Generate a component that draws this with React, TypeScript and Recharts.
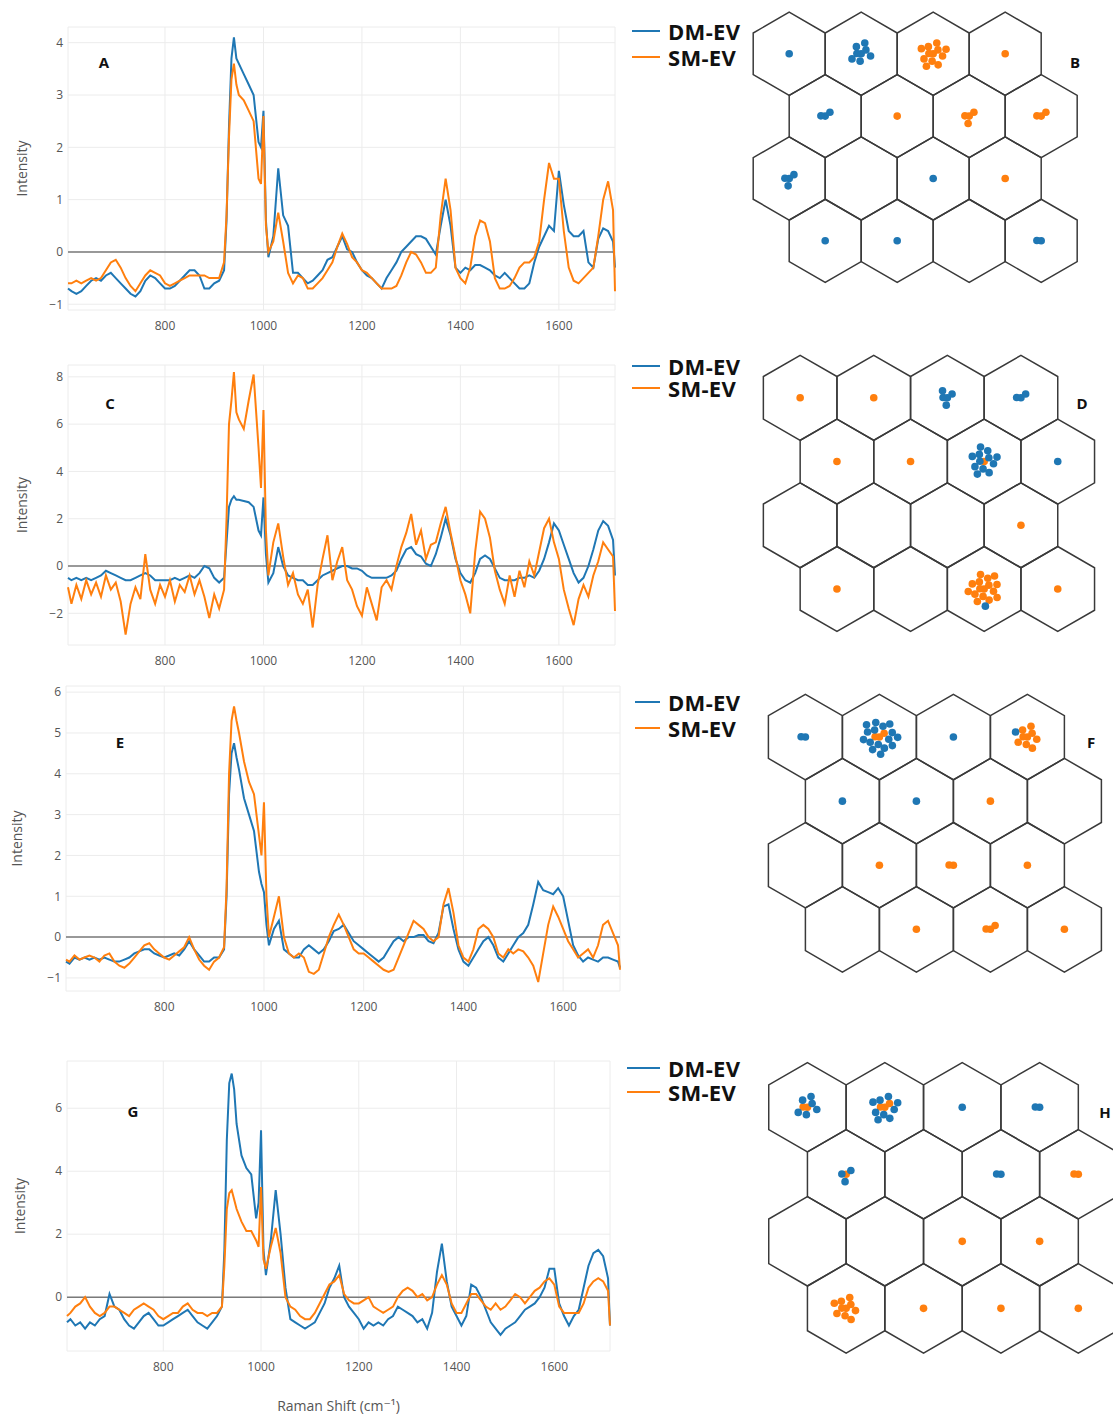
import React from "react";
import { LineChart, Line, XAxis, YAxis, CartesianGrid, ReferenceLine, ScatterChart, Scatter } from "recharts";

const BLUE = "#1f77b4";
const ORANGE = "#ff7f0e";
const seriesNames = ["DM-EV", "SM-EV"];

// Raman shift (cm-1) sample positions shared by all spectra
const ramanShift = [
  603, 610, 620, 630, 640, 650, 660, 670, 680, 690,
  700, 710, 720, 730, 740, 750, 760, 770, 780, 790,
  800, 810, 820, 830, 840, 850, 860, 870, 880, 890,
  900, 910, 920, 925, 930, 935, 940, 945, 950, 960,
  970, 980, 990, 995, 1000, 1005, 1010, 1020, 1030, 1040,
  1050, 1060, 1070, 1080, 1090, 1100, 1110, 1120, 1130, 1140,
  1150, 1160, 1170, 1180, 1190, 1200, 1210, 1220, 1230, 1240,
  1250, 1260, 1270, 1280, 1290, 1300, 1310, 1320, 1330, 1340,
  1350, 1360, 1370, 1380, 1390, 1400, 1410, 1420, 1430, 1440,
  1450, 1460, 1470, 1480, 1490, 1500, 1510, 1520, 1530, 1540,
  1550, 1560, 1570, 1580, 1590, 1600, 1610, 1620, 1630, 1640,
  1650, 1660, 1670, 1680, 1690, 1700, 1710, 1714,
];
const xTicks = [800, 1000, 1200, 1400, 1600];

// panel A
const dmA = [
  -0.7, -0.75, -0.8, -0.75, -0.65, -0.55, -0.5, -0.55, -0.45, -0.4,
  -0.5, -0.6, -0.7, -0.8, -0.85, -0.75, -0.55, -0.45, -0.5, -0.6,
  -0.7, -0.7, -0.65, -0.55, -0.45, -0.35, -0.35, -0.45, -0.7, -0.7,
  -0.6, -0.55, -0.35, 0.6, 2.4, 3.7, 4.1, 3.7, 3.6, 3.4,
  3.2, 3.0, 2.1, 2.0, 2.7, 0.6, -0.1, 0.3, 1.6, 0.7,
  0.5, -0.4, -0.4, -0.5, -0.6, -0.55, -0.45, -0.35, -0.15, -0.1,
  0.1, 0.3, 0.05, 0.0, -0.2, -0.35, -0.45, -0.5, -0.6, -0.7,
  -0.5, -0.35, -0.2, 0.0, 0.1, 0.2, 0.3, 0.3, 0.25, 0.1,
  -0.05, 0.5, 1.0, 0.5, -0.3, -0.4, -0.3, -0.35, -0.25, -0.25,
  -0.3, -0.35, -0.45, -0.5, -0.4, -0.5, -0.6, -0.7, -0.7, -0.6,
  -0.2, 0.1, 0.3, 0.5, 0.4, 1.55, 0.9, 0.4, 0.3, 0.3,
  0.4, -0.2, -0.3, 0.25, 0.45, 0.4, 0.2, -0.3,
];
const smA = [
  -0.6, -0.6, -0.55, -0.6, -0.55, -0.5, -0.55, -0.5, -0.35, -0.2,
  -0.15, -0.3, -0.5, -0.65, -0.75, -0.6, -0.45, -0.35, -0.4, -0.45,
  -0.6, -0.65, -0.6, -0.55, -0.5, -0.45, -0.45, -0.45, -0.45, -0.5,
  -0.5, -0.5, -0.2, 0.7, 2.2, 3.3, 3.6, 3.2, 3.0, 2.9,
  2.7, 2.5, 1.4, 1.3, 2.6, 0.5, 0.0, 0.2, 0.75, 0.2,
  -0.4, -0.6, -0.45, -0.5, -0.7, -0.7, -0.6, -0.5, -0.35, -0.2,
  0.1, 0.35, 0.15, -0.1, -0.2, -0.35, -0.4, -0.5, -0.6, -0.7,
  -0.7, -0.7, -0.65, -0.45, -0.2, 0.0, -0.05, -0.2, -0.4, -0.4,
  -0.3, 0.7, 1.4, 0.8, -0.3, -0.5, -0.6, -0.3, 0.3, 0.6,
  0.55, 0.2, -0.5, -0.7, -0.7, -0.65, -0.5, -0.3, -0.2, -0.2,
  -0.1, 0.2, 1.0, 1.7, 1.4, 1.4, 0.4, -0.3, -0.55, -0.6,
  -0.5, -0.4, -0.3, 0.3, 1.0, 1.35, 0.8, -0.75,
];

// panel C
const dmC = [
  -0.5, -0.6, -0.5, -0.6, -0.5, -0.6, -0.5, -0.4, -0.2, -0.3,
  -0.4, -0.5, -0.6, -0.6, -0.5, -0.4, -0.3, -0.4, -0.6, -0.6,
  -0.6, -0.6, -0.5, -0.6, -0.5, -0.4, -0.5, -0.3, 0.0, -0.1,
  -0.5, -0.7, -0.5, 1.0, 2.5, 2.8, 2.95, 2.8, 2.8, 2.75,
  2.7, 2.5, 1.5, 1.3, 2.9, 0.5, -0.7, -0.3, 0.8, 0.0,
  -0.4, -0.5, -0.6, -0.6, -0.8, -0.8, -0.6, -0.4, -0.3, -0.2,
  -0.1, 0.0, 0.0, -0.1, -0.1, -0.2, -0.4, -0.5, -0.5, -0.5,
  -0.5, -0.4, -0.2, 0.3, 0.7, 0.8, 0.5, 0.4, 0.1, 0.0,
  0.5, 1.2, 2.0, 1.3, 0.3, -0.3, -0.6, -0.7, -0.3, 0.3,
  0.45, 0.3, -0.1, -0.5, -0.6, -0.6, -0.6, -0.5, -0.5, -0.4,
  -0.5, -0.2, 0.3, 1.0, 1.8, 1.5, 0.9, 0.3, -0.3, -0.7,
  -0.5, 0.0, 0.7, 1.5, 1.9, 1.7, 1.1, -0.4,
];
const smC = [
  -0.9, -1.6, -0.8, -1.4, -0.6, -1.2, -0.7, -1.3, -0.4, -1.0,
  -0.7, -1.5, -2.9, -1.6, -0.9, -1.4, 0.5, -1.0, -1.6, -0.8,
  -1.3, -0.6, -1.5, -0.8, -1.1, -0.4, -1.2, -0.6, -1.3, -2.2,
  -1.2, -1.8, -1.0, 2.0, 6.0, 7.0, 8.2, 6.5, 6.2, 5.8,
  7.0, 8.1, 5.0, 3.3, 6.6, 1.5, -0.4, 1.0, 1.8, 0.4,
  -0.8, -0.3, -1.2, -1.6, -1.0, -2.6, -0.8, 0.3, 1.3, -0.6,
  0.2, 0.8, -0.6, -1.0, -1.7, -2.1, -0.9, -1.6, -2.3, -0.9,
  -0.6, -1.0, 0.0, 0.8, 1.4, 2.2, 0.9, 1.5, 0.3, 0.9,
  1.0, 1.8, 2.5, 1.4, 0.4, -0.6, -1.2, -2.0, 0.6, 2.3,
  2.0, 1.2, -0.2, -1.0, -1.6, -0.4, -1.3, -0.2, -0.9, 0.2,
  -0.4, 0.6, 1.6, 2.0, 1.0, 0.3, -1.0, -1.8, -2.5, -1.4,
  -0.8, -1.3, -0.4, 0.2, 1.0, 0.7, 0.4, -1.9,
];

// panel E
const dmE = [
  -0.6, -0.65, -0.5, -0.55, -0.5, -0.55, -0.5, -0.55, -0.5, -0.55,
  -0.6, -0.6, -0.55, -0.5, -0.4, -0.35, -0.3, -0.3, -0.4, -0.45,
  -0.5, -0.45, -0.4, -0.45, -0.3, -0.1, -0.3, -0.45, -0.6, -0.6,
  -0.5, -0.5, -0.3, 1.0, 3.5, 4.5, 4.75, 4.4, 4.1, 3.4,
  3.0, 2.6, 1.6, 1.3, 1.1, 0.3, -0.2, 0.2, 0.4, -0.3,
  -0.4, -0.5, -0.5, -0.3, -0.2, -0.3, -0.4, -0.3, -0.1, 0.15,
  0.2, 0.3, 0.1, -0.1, -0.2, -0.3, -0.4, -0.5, -0.6, -0.5,
  -0.3, -0.1, 0.0, -0.1, 0.0, 0.0, 0.05, 0.05, -0.1, -0.15,
  0.1, 0.75, 0.8, 0.2, -0.3, -0.6, -0.7, -0.5, -0.3, -0.1,
  0.0, -0.2, -0.5, -0.6, -0.4, -0.2, 0.0, 0.1, 0.3, 0.8,
  1.35, 1.15, 1.1, 1.05, 1.2, 1.0, 0.4, -0.2, -0.45, -0.6,
  -0.5, -0.55, -0.6, -0.5, -0.5, -0.55, -0.6, -0.75,
];
const smE = [
  -0.55, -0.6, -0.45, -0.55, -0.5, -0.45, -0.5, -0.6, -0.45, -0.4,
  -0.6, -0.7, -0.75, -0.65, -0.5, -0.35, -0.2, -0.15, -0.3, -0.4,
  -0.5, -0.55, -0.45, -0.35, -0.25, 0.0, -0.3, -0.55, -0.7, -0.8,
  -0.6, -0.5, -0.25, 1.2, 4.0, 5.3, 5.65, 5.3, 5.0, 4.3,
  3.8, 3.5, 2.5, 2.0, 3.3, 1.0, 0.0, 0.5, 1.0, 0.0,
  -0.4, -0.5, -0.4, -0.5, -0.85, -0.9, -0.8, -0.4, 0.0, 0.3,
  0.55, 0.3, 0.0, -0.3, -0.4, -0.4, -0.5, -0.6, -0.7, -0.8,
  -0.85, -0.8, -0.5, -0.2, 0.1, 0.4, 0.3, 0.2, 0.0, -0.1,
  0.0, 0.8, 1.2, 0.6, -0.2, -0.5, -0.6, -0.3, 0.2, 0.3,
  0.2, 0.0, -0.4, -0.5, -0.3, -0.4, -0.3, -0.35, -0.5, -0.7,
  -1.1, -0.4, 0.3, 0.75, 0.5, 0.2, -0.1, -0.3, -0.5, -0.4,
  -0.3, -0.5, -0.2, 0.3, 0.4, 0.1, -0.2, -0.8,
];

// panel G
const dmG = [
  -0.8, -0.7, -0.9, -0.8, -1.0, -0.8, -0.9, -0.7, -0.6, 0.1,
  -0.3, -0.4, -0.7, -0.9, -1.0, -0.8, -0.6, -0.5, -0.7, -0.9,
  -0.9, -0.8, -0.7, -0.6, -0.5, -0.4, -0.6, -0.8, -0.9, -1.0,
  -0.8, -0.6, -0.3, 1.5, 5.0, 6.8, 7.1, 6.6, 5.5, 4.5,
  4.1, 3.9, 2.5, 3.0, 5.3, 1.5, 0.7, 1.8, 3.4, 2.0,
  0.3, -0.7, -0.8, -0.9, -1.0, -0.9, -0.8, -0.5, -0.2, 0.3,
  0.6, 1.0, 0.0, -0.3, -0.5, -0.7, -1.0, -0.8, -0.9, -0.8,
  -0.9, -0.7, -0.6, -0.3, -0.4, -0.5, -0.6, -0.8, -0.7, -1.0,
  -0.5, 0.8, 1.7, 0.5, -0.3, -0.6, -0.9, -0.6, 0.4, 0.3,
  0.0, -0.4, -0.8, -1.0, -1.2, -1.0, -0.9, -0.8, -0.6, -0.4,
  -0.3, -0.2, 0.0, 0.3, 0.9, 0.9, -0.2, -0.6, -0.9, -0.6,
  -0.4, 0.3, 1.0, 1.4, 1.5, 1.3, 0.6, -0.9,
];
const smG = [
  -0.6, -0.5, -0.3, -0.2, 0.0, -0.3, -0.5, -0.6, -0.5, -0.3,
  -0.3, -0.4, -0.5, -0.6, -0.4, -0.3, -0.2, -0.3, -0.4, -0.6,
  -0.7, -0.6, -0.5, -0.5, -0.3, -0.2, -0.4, -0.5, -0.5, -0.6,
  -0.5, -0.5, -0.3, 1.0, 2.8, 3.3, 3.4, 3.1, 2.8, 2.4,
  2.1, 2.1, 1.8, 1.6, 3.5, 1.2, 0.9, 1.6, 2.2, 1.4,
  0.0, -0.3, -0.4, -0.6, -0.7, -0.7, -0.5, -0.2, 0.1, 0.4,
  0.5, 0.7, 0.1, -0.1, -0.2, -0.2, -0.1, 0.0, -0.3, -0.4,
  -0.5, -0.4, -0.3, 0.0, 0.2, 0.3, 0.2, 0.0, 0.1, -0.1,
  0.0, 0.4, 0.7, 0.4, -0.2, -0.5, -0.5, -0.2, 0.1, 0.1,
  -0.1, -0.3, -0.4, -0.2, -0.4, -0.3, -0.1, 0.1, 0.0, -0.2,
  0.0, 0.2, 0.3, 0.5, 0.6, 0.4, -0.3, -0.5, -0.5, -0.5,
  -0.5, -0.2, 0.3, 0.5, 0.6, 0.5, 0.2, -0.9,
];

// SOM node hits: [col, row, DM-EV count, SM-EV count]
const somB = [
  [0, 0, 1, 0], [1, 0, 8, 0], [2, 0, 0, 12], [3, 0, 0, 1],
  [0, 1, 3, 0], [1, 1, 0, 1], [2, 1, 0, 4], [3, 1, 0, 3],
  [0, 2, 4, 0], [2, 2, 1, 0], [3, 2, 0, 1],
  [0, 3, 1, 0], [1, 3, 1, 0], [3, 3, 2, 0],
];
const somD = [
  [0, 0, 0, 1], [1, 0, 0, 1], [2, 0, 5, 0], [3, 0, 3, 0],
  [0, 1, 0, 1], [1, 1, 0, 1], [2, 1, 12, 1], [3, 1, 1, 0],
  [3, 2, 0, 1],
  [0, 3, 0, 1], [2, 3, 1, 16], [3, 3, 0, 1],
];
const somF = [
  [0, 0, 2, 0], [1, 0, 16, 3], [2, 0, 1, 0], [3, 0, 1, 9],
  [0, 1, 1, 0], [1, 1, 1, 0], [2, 1, 0, 1],
  [1, 2, 0, 1], [2, 2, 0, 2], [3, 2, 0, 1],
  [1, 3, 0, 1], [2, 3, 0, 3], [3, 3, 0, 1],
];
const somH = [
  [0, 0, 6, 2], [1, 0, 9, 3], [2, 0, 1, 0], [3, 0, 2, 0],
  [0, 1, 3, 1], [2, 1, 2, 0], [3, 1, 0, 2],
  [2, 2, 0, 1], [3, 2, 0, 1],
  [0, 3, 0, 10], [1, 3, 0, 1], [2, 3, 0, 1], [3, 3, 0, 1],
];
const gridCols = [0, 1, 2, 3];
const gridRows = [0, 1, 2, 3];

const FONT = '"Open Sans", "DejaVu Sans", sans-serif';
const fmt = (v: number) => String(v).replace("-", "\u2212");

function Spectrum({ dm, sm, yDomain, yTicks, top, plotTop, plotBottom, plotLeft, plotRight, titleX, xTitle }: any) {
  const data = ramanShift.map((x, i) => ({ x, dm: dm[i], sm: sm[i] }));
  const axisH = xTitle ? 66 : 30;
  const mt = plotTop - top;
  const height = mt + (plotBottom - plotTop) + axisH;
  return (
    <div style={{ position: "absolute", left: 0, top }}>
      <LineChart width={plotRight + 5} height={height} data={data} margin={{ top: mt, right: 5, bottom: 0, left: 0 }} style={{ fontFamily: FONT }}>
        <CartesianGrid stroke="#ececec" />
        <XAxis
          type="number"
          dataKey="x"
          domain={[603, 1714]}
          ticks={xTicks}
          tickLine={false}
          axisLine={false}
          tickSize={0}
          tickMargin={11}
          height={axisH}
          tick={{ fill: "#555", fontSize: 12 }}
          label={xTitle ? { value: "Raman Shift (cm\u207B\u00B9)", position: "insideBottom", offset: 6, fill: "#555", fontSize: 14 } : undefined}
        />
        <YAxis
          type="number"
          domain={yDomain}
          ticks={yTicks}
          width={plotLeft}
          tickLine={false}
          axisLine={false}
          tickSize={0}
          tickMargin={5}
          tickFormatter={fmt}
          tick={{ fill: "#555", fontSize: 12 }}
          label={{ value: "Intensity", angle: -90, position: "insideLeft", offset: titleX, style: { textAnchor: "middle" }, fill: "#555", fontSize: 14 }}
        />
        <ReferenceLine y={0} stroke="#7a7a7a" strokeWidth={1.5} />
        <Line type="linear" dataKey="dm" name={seriesNames[0]} stroke={BLUE} strokeWidth={2} dot={false} isAnimationActive={false} />
        <Line type="linear" dataKey="sm" name={seriesNames[1]} stroke={ORANGE} strokeWidth={2} dot={false} isAnimationActive={false} />
      </LineChart>
    </div>
  );
}

function Som({ nodes, x0, y0, s }: any) {
  const h = (s * Math.sqrt(3)) / 2;
  const R = s / Math.sqrt(3);
  const cells = gridRows.flatMap((r) => gridCols.map((c) => ({ x: c + (r % 2) * 0.5, y: r })));
  const dmDots: any[] = [];
  const smDots: any[] = [];
  nodes.forEach(([c, r, nDm, nSm]: number[]) => {
    const cx = c + (r % 2) * 0.5;
    for (let i = 0; i < nSm + nDm; i++) {
      const rad = 4.3 * Math.sqrt(i);
      const th = i * 2.39996 + 0.8;
      const p = { x: cx + (rad * Math.cos(th)) / s, y: r + (rad * Math.sin(th)) / h };
      (i < nSm ? smDots : dmDots).push(p);
    }
  });
  const width = 4.7 * s;
  const height = 4.5 * h;
  const hex = (p: any) => {
    const pts = [0, 1, 2, 3, 4, 5]
      .map((k) => {
        const a = ((-90 + 60 * k) * Math.PI) / 180;
        return `${p.cx + R * Math.cos(a)},${p.cy + R * Math.sin(a)}`;
      })
      .join(" ");
    return <polygon points={pts} fill="none" stroke="#3a3a3a" strokeWidth={1.5} />;
  };
  const dot = (color: string) => (p: any) => <circle cx={p.cx} cy={p.cy} r={3.8} fill={color} />;
  return (
    <div style={{ position: "absolute", left: x0 - 0.6 * s, top: y0 - 0.75 * h }}>
      <ScatterChart width={width} height={height} margin={{ top: 0, right: 0, bottom: 0, left: 0 }}>
        <XAxis type="number" dataKey="x" domain={[-0.6, 4.1]} hide allowDataOverflow />
        <YAxis type="number" dataKey="y" domain={[-0.75, 3.75]} reversed hide allowDataOverflow />
        <Scatter data={cells} shape={hex} isAnimationActive={false} />
        <Scatter data={smDots} shape={dot(ORANGE)} isAnimationActive={false} />
        <Scatter data={dmDots} shape={dot(BLUE)} isAnimationActive={false} />
      </ScatterChart>
    </div>
  );
}

function LegendBox({ left, ys }: any) {
  return (
    <>
      {seriesNames.map((n, i) => (
        <div key={n} style={{ position: "absolute", left, top: ys[i] - 11, height: 22, display: "flex", alignItems: "center" }}>
          <span style={{ display: "inline-block", width: 660 - left, height: 2.5, background: i === 0 ? BLUE : ORANGE, marginRight: 8 }} />
          <span style={{ fontFamily: FONT, fontWeight: 700, fontSize: 22, lineHeight: "22px", color: "#111", letterSpacing: 0.3 }}>{n}</span>
        </div>
      ))}
    </>
  );
}

function Letter({ t, x, y }: any) {
  return (
    <div style={{ position: "absolute", left: x, top: y, transform: "translate(-50%, -50%)", fontFamily: FONT, fontWeight: 700, fontSize: 15, color: "#111" }}>{t}</div>
  );
}

export default function App() {
  return (
    <div style={{ position: "absolute", left: 0, top: 0, width: 1113, height: 1418, overflow: "hidden", background: "#fff" }}>
      <Spectrum dm={dmA} sm={smA} yDomain={[-1.11, 4.3]} yTicks={[-1, 0, 1, 2, 3, 4]} top={0} plotTop={27} plotBottom={310} plotLeft={68} plotRight={615} titleX={22} />
      <Spectrum dm={dmC} sm={smC} yDomain={[-3.34, 8.5]} yTicks={[-2, 0, 2, 4, 6, 8]} top={340} plotTop={365} plotBottom={645} plotLeft={68} plotRight={615} titleX={22} />
      <Spectrum dm={dmE} sm={smE} yDomain={[-1.32, 6.15]} yTicks={[-1, 0, 1, 2, 3, 4, 5, 6]} top={680} plotTop={686} plotBottom={991} plotLeft={66} plotRight={620} titleX={17} />
      <Spectrum dm={dmG} sm={smG} yDomain={[-1.71, 7.5]} yTicks={[0, 2, 4, 6]} top={1042} plotTop={1061} plotBottom={1351} plotLeft={67} plotRight={610} titleX={20} xTitle />

      <Letter t="A" x={104} y={62} />
      <Letter t="C" x={110} y={403} />
      <Letter t="E" x={120} y={742} />
      <Letter t="G" x={133} y={1111} />

      <LegendBox left={632} ys={[31, 57]} />
      <LegendBox left={632} ys={[366, 388]} />
      <LegendBox left={635} ys={[702, 728]} />
      <LegendBox left={627} ys={[1068, 1092]} />

      <Som nodes={somB} x0={789} y0={54} s={72} />
      <Som nodes={somD} x0={800} y0={398} s={73.6} />
      <Som nodes={somF} x0={805} y0={737} s={74} />
      <Som nodes={somH} x0={807} y0={1107} s={77.4} />

      <Letter t="B" x={1075} y={62} />
      <Letter t="D" x={1082} y={403} />
      <Letter t="F" x={1091} y={742} />
      <Letter t="H" x={1105} y={1112} />
    </div>
  );
}
